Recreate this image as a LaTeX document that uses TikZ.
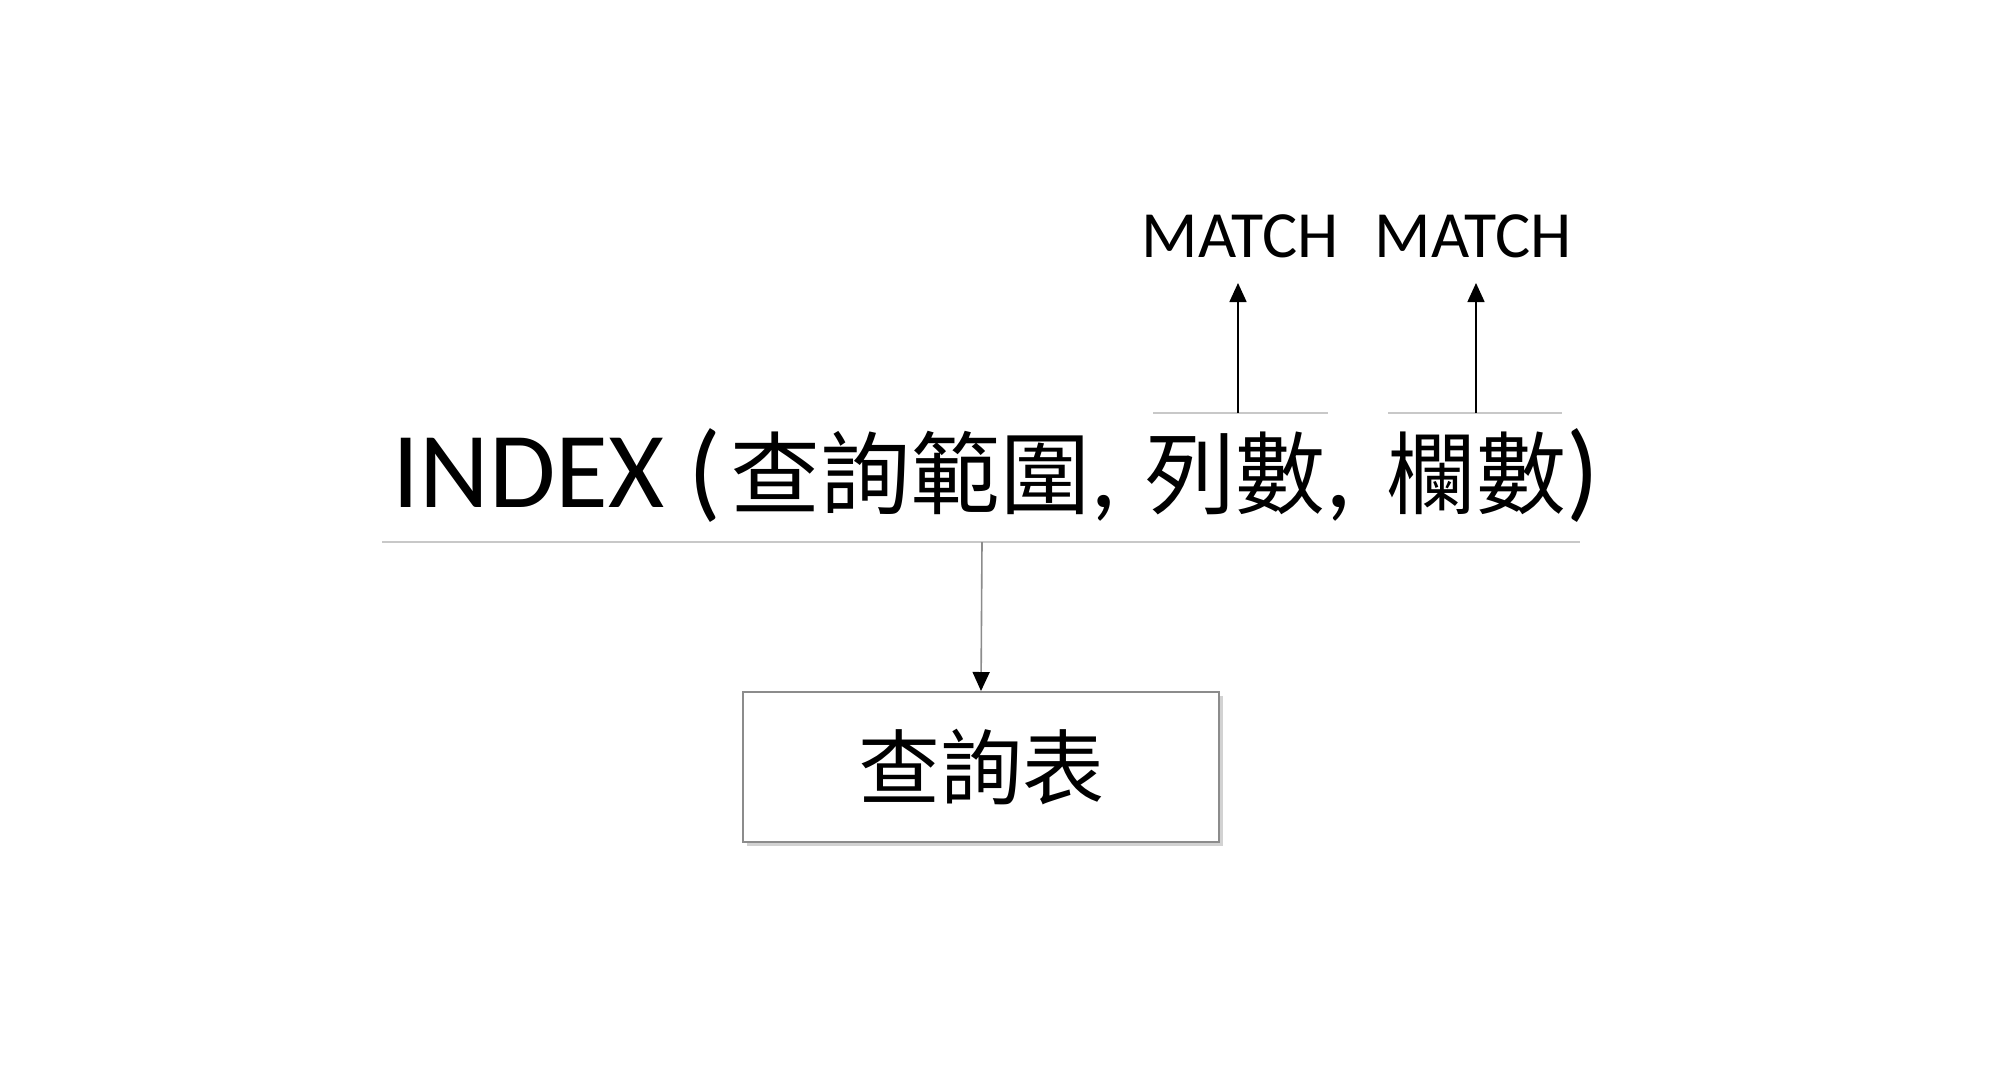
\documentclass[tikz,border=0pt]{standalone}
\usepackage{fontspec}
\setmainfont{Carlito}
\newfontfamily\cjk{Noto Sans CJK TC}
\usetikzlibrary{arrows.meta,shadows}
\definecolor{lightrule}{HTML}{C8C8C8}
\definecolor{boxrule}{HTML}{8C8C8C}
\newcommand{\latinbig}{\fontspec{Carlito}\fontsize{108}{120}\selectfont}
\newcommand{\cjkbig}{\cjk\fontsize{90}{100}\selectfont}
\tikzset{
  rule/.style={draw=lightrule,line width=2.2pt},
  uparrow/.style={draw=black,line width=1.6pt,-{Triangle[length=19pt,width=17pt]}},
  downarrow/.style={draw=black!45,line width=1.6pt,-{Triangle[length=19pt,width=17pt,color=black,fill=black]}},
  matchlbl/.style={font=\fontsize{66}{72}\selectfont,inner sep=0pt,anchor=base},
  part/.style={inner sep=0pt,anchor=base west},
  tablebox/.style={draw=boxrule,line width=2pt,fill=white,minimum width=476pt,minimum height=150pt,inner sep=0pt,
    drop shadow={shadow xshift=4pt,shadow yshift=-4pt,opacity=0.35}},
}
\begin{document}
\begin{tikzpicture}[x=1pt,y=-1pt]
\useasboundingbox[fill=white] (0,0) rectangle (1991,1080);
% main formula, in parts
\node[part] (fIndex) at (392,507) {\latinbig INDEX (};
\node[part] (fRange) at (730,507) {\cjkbig 查詢範圍\latinbig ,};
\node[part] (fRow) at (1145,507) {\cjkbig 列數\latinbig ,};
\node[part] (fCol) at (1386,507) {\cjkbig 欄數\latinbig )};
% underlines
\coordinate (ulA) at (382,542);
\coordinate (ulB) at (1580,542);
\coordinate (ulMid) at (982,542);
\draw[rule] (ulA) -- (ulB);
\coordinate (rA) at (1153,413);
\coordinate (rB) at (1328,413);
\coordinate (rMid) at (1238,413);
\draw[rule] (rA) -- (rB);
\coordinate (cA) at (1388,413);
\coordinate (cB) at (1562,413);
\coordinate (cMid) at (1476,413);
\draw[rule] (cA) -- (cB);
% MATCH labels
\node[matchlbl] (m1) at (1240,257) {MATCH};
\node[matchlbl] (m2) at (1473,257) {MATCH};
\coordinate (m1tip) at (1238,283);
\coordinate (m2tip) at (1476,283);
\draw[uparrow] (rMid) -- (m1tip);
\draw[uparrow] (cMid) -- (m2tip);
% lookup table box
\node[tablebox] (tbl) at (981,767) {\cjk\fontsize{82}{90}\selectfont 查詢表};
\draw[downarrow] (ulMid) -- (tbl.north);
\end{tikzpicture}
\end{document}
